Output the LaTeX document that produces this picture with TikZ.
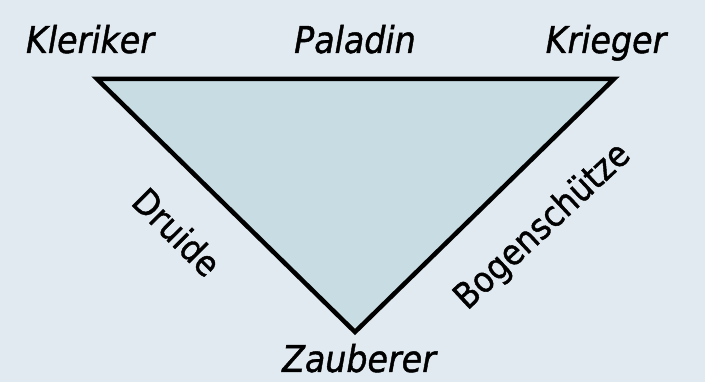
\documentclass[tikz,border=0pt]{standalone}
\usepackage{fontspec}
\setmainfont{DejaVu Sans Condensed}
\newfontfamily\labfont[FakeBold=1.2]{DejaVu Sans Condensed}
\begin{document}
\begin{tikzpicture}[x=1pt,y=-1pt,
  lab/.style={font=\labfont\fontsize{37}{40}\selectfont\itshape, inner sep=0pt, anchor=base},
  side/.style={font=\labfont\fontsize{35.5}{38}\selectfont, inner sep=0pt, anchor=center}]
\definecolor{bg}{HTML}{E1EAF0}
\definecolor{tri}{HTML}{C8DCE3}
\fill[bg] (0,0) rectangle (705,382);
\useasboundingbox (0,0) rectangle (705,382);
\coordinate (A) at (97,79);
\coordinate (B) at (614,79);
\coordinate (C) at (355,332);
\filldraw[fill=tri, draw=black, line width=4.5pt, line join=miter] (A) -- (B) -- (C) -- cycle;
\node[lab] (kl) at (90,53) {Kleriker};
\node[lab] (pa) at (355,53) {Paladin};
\node[lab] (kr) at (606,53) {Krieger};
\node[lab] (za) at (359,372) {Zauberer};
\node[side, rotate=-45] (dr) at (177,232) {Druide};
\node[side, rotate=43] (bo) at (543,227) {Bogenschütze};
\end{tikzpicture}
\end{document}
